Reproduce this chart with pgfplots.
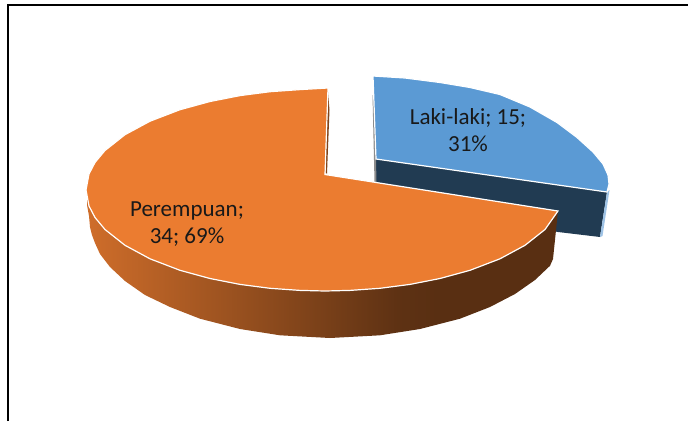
\documentclass[border=0pt]{standalone}
\usepackage{pgfplots}
\usepackage{fontspec}
\setmainfont{Carlito}
\pgfplotsset{compat=1.18}
\definecolor{orangetop}{HTML}{EB7C30}
\definecolor{bluetop}{HTML}{5B9AD4}
\definecolor{blueside}{HTML}{213B52}
\pgfdeclarehorizontalshading{orangeside}{100bp}{color(0bp)=(orangetop!88!black); color(25bp)=(orangetop!88!black); color(58bp)=(orangetop!40!black); color(62bp)=(orangetop!38!black); color(75bp)=(orangetop!38!black); color(100bp)=(orangetop!38!black)}
\begin{document}
\begin{tikzpicture}
\begin{axis}[
  width=688pt,height=421pt,scale only axis,
  xmin=0,xmax=688,ymin=0,ymax=421,y dir=reverse,
  axis line style={draw=none},ticks=none,clip=true,no markers]
% page frame
\addplot[black,line width=2.6pt,line join=miter] coordinates {(8,421) (8,5) (688,5)};
% blue slice: side, rims, top
\addplot[fill=blueside,draw=none] coordinates {(376,159) (607,192) (600,237) (558,232) (376,200) (376,159)};
\addplot[fill=black!45,draw=none] coordinates {(372.5,95) (374.5,182) (376.5,182) (376,160) (373.5,95) (372.5,95)};
\addplot[fill=bluetop!60!white,draw=none] coordinates {(607,192) (600,237) (602.5,236) (609.5,190) (607,192)};
\addplot[fill=bluetop,draw=white,line width=1.2pt] coordinates {(373,76) (405,78) (440,82.5) (470,87.5) (500,94.5) (530,107) (557,122.5) (577,137.5) (593,152) (603,164) (608,175) (609,184) (607,192) (376,159) (373,76)};
% orange slice: side with its shading, rim, top
\addplot[shading=orangeside,draw=none] coordinates {(87,192) (87,205) (89,216) (90,227) (92,235) (95,243) (100,254) (110,267) (125,281) (145,295) (170,307) (200,318.7) (240,329) (280,335.3) (330,338) (380,335.3) (420,329) (460,318.7) (490,307) (515,294) (535,280) (550,265.8) (553,259) (558,211) (545,229.5) (525,245.3) (500,258.8) (470,270.3) (440,278.5) (410,284.4) (380,288.3) (350,290.4) (325,291) (300,290.4) (270,288.3) (240,284.4) (210,278.5) (180,270.3) (150,258.8) (125,245.3) (105,229.5) (95,217.5) (89,206) (87,192)};
\addplot[fill=orangetop!55!black,draw=none] coordinates {(328,92) (325.5,173) (327,173.5) (329.5,110) (328,92)};
\addplot[fill=orangetop,draw=white,line width=1.2pt] coordinates {(328,88) (300,89.6) (270,91.7) (240,95.6) (210,101.5) (180,109.7) (150,121.2) (125,134.7) (105,150.5) (95,162.5) (89,174) (86,190) (89,206) (95,217.5) (105,229.5) (125,245.3) (150,258.8) (180,270.3) (210,278.5) (240,284.4) (270,288.3) (300,290.4) (325,291) (350,290.4) (380,288.3) (410,284.4) (440,278.5) (470,270.3) (500,258.8) (525,245.3) (545,229.5) (558,211) (325,174.5) (328,88)};
% labels
\node[align=center,font=\fontsize{23}{27}\selectfont,text=black!90] at (axis cs:468,130.5) {Laki-laki; 15;\\31\%};
\node[align=center,font=\fontsize{23}{27}\selectfont,text=black!90] at (axis cs:187,224.5) {Perempuan;\\34; 69\%};
\end{axis}
\end{tikzpicture}
\end{document}
